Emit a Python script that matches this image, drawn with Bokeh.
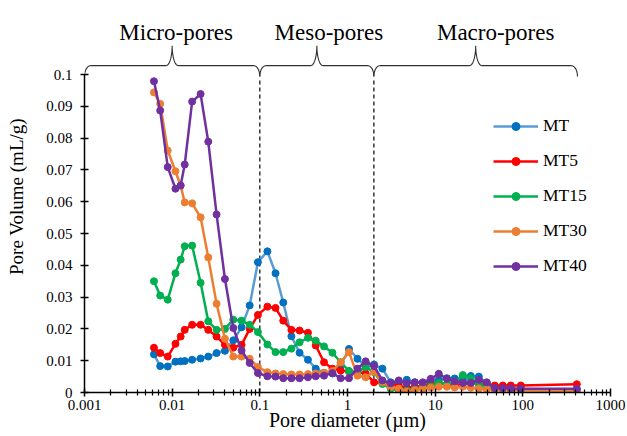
import numpy as np
from bokeh.plotting import figure
from bokeh.models import FixedTicker, CustomJSTickFormatter, Range1d
from bokeh.core.properties import value
from bokeh.embed import file_html
from bokeh.resources import INLINE

# ---------------- data ----------------
diameter = [0.0062, 0.0073, 0.0089, 0.0109, 0.0125, 0.0139, 0.0169, 0.0211, 0.0258, 0.0321,
            0.0400, 0.0498, 0.0619, 0.0766, 0.0951, 0.122, 0.151, 0.185, 0.229, 0.284,
            0.354, 0.434, 0.540, 0.673, 0.836, 1.04, 1.30, 1.61, 2.01, 2.50,
            3.11, 3.84, 4.74, 5.85, 7.21, 8.91, 11.0, 13.6, 16.7, 20.7,
            25.5, 31.5, 38.8, 47.9, 59.1, 72.9, 94.9, 413]

mt = [0.0120, 0.0083, 0.0082, 0.0097, 0.0098, 0.0099, 0.0103, 0.0107, 0.0113, 0.0124,
      0.0131, 0.0164, 0.0205, 0.0274, 0.0410, 0.0444, 0.0375, 0.0283, 0.0177, 0.0125,
      0.0103, 0.0075, 0.0062, 0.0060, 0.0085, 0.0137, 0.0106, 0.0082, 0.0088, 0.0075,
      0.0032, 0.0027, 0.0040, 0.0032, 0.0030, 0.0035, 0.0040, 0.0045, 0.0044, 0.0036,
      0.0052, 0.0050, 0.0030, 0.0012, 0.0011, 0.0010, 0.0010, 0.0008]

mt5 = [0.0141, 0.0124, 0.0113, 0.0153, 0.0176, 0.0197, 0.0213, 0.0213, 0.0197, 0.0176,
       0.0150, 0.0141, 0.0150, 0.0200, 0.0244, 0.0270, 0.0266, 0.0226, 0.0197, 0.0195,
       0.0188, 0.0148, 0.0095, 0.0075, 0.0069, 0.0066, 0.0064, 0.0060, 0.0032, 0.0030,
       0.0025, 0.0020, 0.0015, 0.0018, 0.0020, 0.0025, 0.0030, 0.0025, 0.0022, 0.0028,
       0.0030, 0.0028, 0.0025, 0.0022, 0.0022, 0.0022, 0.0022, 0.0026]

mt15 = [0.0350, 0.0305, 0.0292, 0.0375, 0.0418, 0.0460, 0.0462, 0.0345, 0.0224, 0.0197,
        0.0200, 0.0229, 0.0226, 0.0213, 0.0190, 0.0151, 0.0127, 0.0127, 0.0138, 0.0158,
        0.0172, 0.0163, 0.0145, 0.0125, 0.0095, 0.0068, 0.0064, 0.0080, 0.0064, 0.0027,
        0.0012, 0.0006, 0.0006, 0.0010, 0.0015, 0.0020, 0.0030, 0.0025, 0.0035, 0.0055,
        0.0045, 0.0025, 0.0015, 0.0010, 0.0010, 0.0008, 0.0008, 0.0006]

mt30 = [0.0944, 0.0908, 0.0761, 0.0696, 0.0651, 0.0598, 0.0595, 0.0551, 0.0425, 0.0279,
        0.0169, 0.0113, 0.0113, 0.0106, 0.0080, 0.0064, 0.0060, 0.0058, 0.0057, 0.0057,
        0.0058, 0.0060, 0.0062, 0.0068, 0.0095, 0.0127, 0.0053, 0.0048, 0.0065, 0.0032,
        0.0017, 0.0012, 0.0003, 0.0008, 0.0012, 0.0015, 0.0018, 0.0018, 0.0016, 0.0018,
        0.0015, 0.0012, 0.0010, 0.0008, 0.0008, 0.0008, 0.0007, 0.0005]

mt40 = [0.0979, 0.0887, 0.0709, 0.0641, 0.0651, 0.0717, 0.0915, 0.0939, 0.0789, 0.0560,
        0.0357, 0.0203, 0.0132, 0.0093, 0.0061, 0.0051, 0.0050, 0.0045, 0.0045, 0.0045,
        0.0048, 0.0051, 0.0053, 0.0061, 0.0045, 0.0045, 0.0075, 0.0098, 0.0083, 0.0038,
        0.0029, 0.0038, 0.0029, 0.0032, 0.0032, 0.0043, 0.0059, 0.0043, 0.0035, 0.0030,
        0.0030, 0.0040, 0.0032, 0.0014, 0.0014, 0.0013, 0.0012, 0.0012]

series_names = ["MT", "MT5", "MT15", "MT30", "MT40"]
series_values = [mt, mt5, mt15, mt30, mt40]

region_names = ["Micro-pores", "Meso-pores", "Macro-pores"]
region_bounds = [0.001, 0.1, 2, 420]     # pore-size class limits (µm)

x_ticks = [0.001, 0.01, 0.1, 1, 10, 100, 1000]
y_ticks = [0, 0.01, 0.02, 0.03, 0.04, 0.05, 0.06, 0.07, 0.08, 0.09, 0.1]

# ---------------- styling ----------------
line_colors = ["#5B9BD5", "#FF0000", "#00B050", "#ED7D31", "#7030A0"]
marker_colors = ["#0070C0", "#FF0000", "#00B050", "#ED7D31", "#7030A0"]
FONT = "'Liberation Serif'"

p = figure(width=627, height=436, x_axis_type="log",
           x_range=Range1d(0.001, 1000), y_range=Range1d(0, 0.1233),
           output_backend="svg", toolbar_location=None, title=None,
           min_border_left=84, min_border_right=17, min_border_top=0,
           min_border_bottom=44)
p.outline_line_color = None
p.xgrid.visible = False
p.ygrid.visible = False
p.background_fill_color = "white"
p.border_fill_color = "white"

# dashed class boundaries
bx = region_bounds[1:3]
p.segment(x0=bx, y0=[0] * len(bx), x1=bx, y1=[0.0985] * len(bx),
          line_color="black", line_width=1.2, line_dash="4 3")

# braces
def brace(a, b, y_end=0.0994, y_h=0.1028, y_tip=0.1091, r_end=0.07, r_tip=0.07, n=14):
    la, lb = np.log10(a), np.log10(b)
    m = (la + lb) / 2
    t = np.linspace(0, np.pi / 2, n)
    x1 = la + r_end - r_end * np.cos(t)
    y1 = y_end + (y_h - y_end) * np.sin(t)
    x2 = m - r_tip + r_tip * np.sin(t)
    y2 = y_tip - (y_tip - y_h) * np.cos(t)
    lx = np.concatenate([x1, x2])
    ly = np.concatenate([y1, y2])
    X = np.concatenate([lx, (2 * m - lx)[::-1]])
    Y = np.concatenate([ly, ly[::-1]])
    return list(10 ** X), list(Y), 10 ** m

bxs, bys, mids = [], [], []
for i in range(3):
    xx, yy, mm = brace(region_bounds[i], region_bounds[i + 1])
    bxs.append(xx); bys.append(yy); mids.append(mm)
p.multi_line(xs=bxs, ys=bys, line_color="#303030", line_width=1.1)

p.text(x=mids, y=[0.1132] * 3, text=region_names, x_offset=[4, 12, 20],
       text_align="center", text_baseline="alphabetic",
       text_font=value(FONT), text_font_size="23px", text_color="black")

# series
for name, vals, lc, mc in zip(series_names, series_values, line_colors, marker_colors):
    p.line(diameter, vals, line_color=lc, line_width=2.5, legend_label=name)
    p.scatter(diameter, vals, marker="circle", size=7, fill_color=mc,
              line_color=mc, legend_label=name)

# axes
p.xaxis.ticker = FixedTicker(ticks=x_ticks,
                             minor_ticks=[m * 10.0 ** e for e in range(-3, 3) for m in range(2, 10)])
p.xaxis.formatter = CustomJSTickFormatter(code="return parseFloat(tick.toPrecision(3)).toString();")
p.yaxis.ticker = FixedTicker(ticks=y_ticks)
p.yaxis.formatter = CustomJSTickFormatter(
    code="return tick === 0 ? '0' : parseFloat(tick.toFixed(2)).toString();")
p.yaxis.bounds = (0, 0.1)

for ax in (p.xaxis[0], p.yaxis[0]):
    ax.axis_line_color = "black"
    ax.axis_line_width = 1.5
    ax.major_tick_line_color = "black"
    ax.major_tick_line_width = 1.5
    ax.major_tick_in = 4
    ax.major_tick_out = 4
    ax.major_label_text_font = FONT
    ax.major_label_text_font_size = "15px"
    ax.major_label_text_color = "black"
    ax.axis_label_text_font = FONT
    ax.axis_label_text_font_style = "normal"
    ax.axis_label_text_color = "black"

p.xaxis.minor_tick_line_color = "black"
p.xaxis.minor_tick_line_width = 1.2
p.xaxis.minor_tick_in = 3
p.xaxis.minor_tick_out = 3
p.yaxis.minor_tick_line_color = None

p.xaxis.axis_label = "Pore diameter (µm)"
p.xaxis.axis_label_text_font_size = "20px"
p.xaxis.major_label_standoff = 3
p.xaxis.axis_label_standoff = -4

p.yaxis.axis_label = "Pore Volume (mL/g)"
p.yaxis.axis_label_text_font_size = "19px"
p.yaxis.major_label_standoff = 8
p.yaxis.axis_label_standoff = 16

# legend
lg = p.legend[0]
lg.location = (409, 116)
lg.border_line_color = None
lg.background_fill_alpha = 0
lg.label_text_font = FONT
lg.label_text_font_size = "17.5px"
lg.label_text_color = "black"
lg.glyph_width = 45
lg.glyph_height = 20
lg.label_height = 20
lg.spacing = 14
lg.padding = 0
lg.margin = 0
lg.label_standoff = 5

open("out.html", "w").write(file_html(p, INLINE))
